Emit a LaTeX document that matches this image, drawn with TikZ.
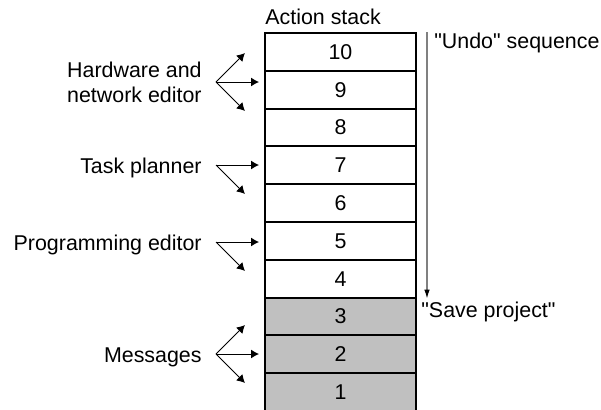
\documentclass[tikz,border=0pt]{standalone}
\usepackage{fontspec}
\setmainfont{Liberation Sans}
\usetikzlibrary{arrows.meta}
\definecolor{savedgray}{RGB}{192,192,192}
\definecolor{undogray}{RGB}{128,128,128}
\begin{document}
\begin{tikzpicture}[x=0.5pt,y=-0.5pt,
  every node/.style={font=\fontsize{10.7}{12.6}\selectfont,inner sep=0pt},
  cell/.style={draw,line width=1pt,minimum width=75.5pt,minimum height=18.9pt,anchor=north west},
  saved/.style={cell,fill=savedgray},
  edit/.style={-{Latex[length=4pt,width=4.5pt]},line width=0.5pt},
  undo/.style={-{Latex[length=4.5pt,width=2.8pt,color=black]},draw=undogray,line width=0.65pt}]
\useasboundingbox (0,0) rectangle (601,409);
\node[anchor=base west] (title) at (265,24) {Action stack};
\foreach \n in {10,...,1} {
  \pgfmathsetmacro\celltop{32+(10-\n)*37.8}
  \ifnum\n<4
    \node[saved] (c\n) at (264,\celltop) {\n};
  \else
    \node[cell] (c\n) at (264,\celltop) {\n};
  \fi
}
\node[anchor=east,align=right] (hw) at (202,82) {Hardware and\\network editor};
\node[anchor=base east] (tp) at (202,173) {Task planner};
\node[anchor=base east] (pe) at (202,250) {Programming editor};
\node[anchor=base east] (msg) at (202,362) {Messages};
\coordinate (hw-from) at (216,82);
\coordinate (tp-from) at (216,165);
\coordinate (pe-from) at (216,242);
\coordinate (msg-from) at (216,354);
\foreach \l/\c in {hw/c9,tp/c7,pe/c5,msg/c2}
  \draw[edit] (\l-from) -- ([xshift=-2.5pt]\c.west |- \l-from);
\foreach \l in {hw,tp,pe,msg}
  \draw[edit] (\l-from) -- ++(29,29);
\foreach \l in {hw,msg}
  \draw[edit] (\l-from) -- ++(29,-29);
\draw[undo] ([xshift=5pt]c10.north east) -- ([xshift=5pt]c4.south east);
\node[anchor=base west] (undotext) at (434,48) {\textquotedbl Undo\textquotedbl{} sequence};
\node[anchor=base west] (savetext) at (421,317) {\textquotedbl Save project\textquotedbl};
\end{tikzpicture}
\end{document}
